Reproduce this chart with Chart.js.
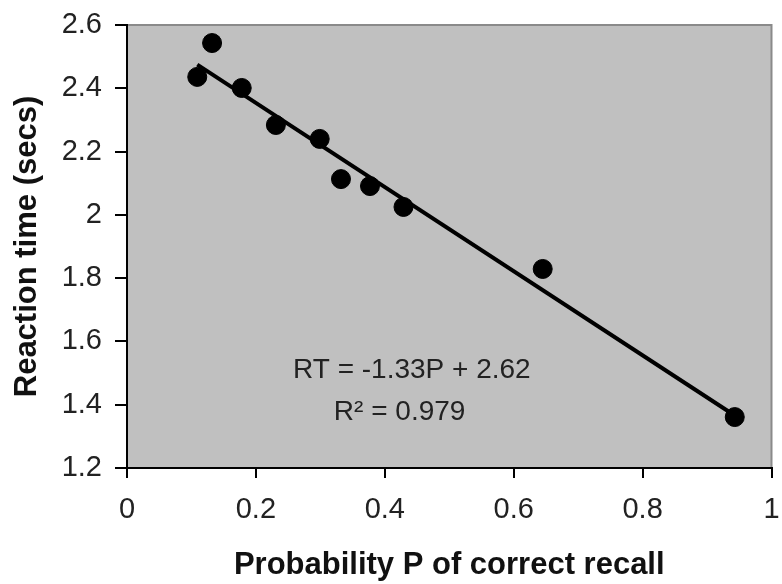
<!DOCTYPE html>
<html>
<head>
<meta charset="utf-8">
<script src="https://cdn.jsdelivr.net/npm/chart.js@4.4.1/dist/chart.umd.min.js"></script>
<style>
  html, body { margin: 0; padding: 0; background: #fff; }
  #wrap { width: 782px; height: 584px; }
</style>
</head>
<body>
<div id="wrap"><canvas id="rtChart" width="782" height="584"></canvas></div>
<script>
// Data
const recallP = [0.109, 0.132, 0.178, 0.231, 0.299, 0.332, 0.377, 0.429, 0.645, 0.943];
const reactionTime = [2.436, 2.543, 2.401, 2.284, 2.240, 2.113, 2.091, 2.025, 1.829, 1.361];
const trendP = [0.109, 0.943];
const trendRT = [2.475, 1.366];
const xTicks = [0, 0.2, 0.4, 0.6, 0.8, 1];
const yTicks = [1.2, 1.4, 1.6, 1.8, 2, 2.2, 2.4, 2.6];
const fitLabel = 'RT = -1.33P + 2.62';
const r2Label = 'R\u00B2 = 0.979';

const FONT = "'Liberation Sans', Arial, sans-serif";

// plot area fill + grey top/right frame, and the fit equation text
const plotDecor = {
    id: 'plotDecor',
    beforeDraw(chart) {
        const { ctx, chartArea: a } = chart;
        ctx.save();
        ctx.fillStyle = '#c0c0c0';
        ctx.fillRect(a.left, a.top, a.right - a.left, a.bottom - a.top);
        ctx.strokeStyle = '#8a8a8a';
        ctx.lineWidth = 2;
        ctx.beginPath();
        ctx.moveTo(a.left, a.top);
        ctx.lineTo(a.right, a.top);
        ctx.lineTo(a.right, a.bottom);
        ctx.stroke();
        ctx.restore();
    },
    afterDatasetsDraw(chart) {
        const { ctx, scales: { x, y } } = chart;
        ctx.save();
        ctx.fillStyle = '#222';
        ctx.font = '28px ' + FONT;
        ctx.textAlign = 'center';
        ctx.textBaseline = 'middle';
        ctx.fillText(fitLabel, x.getPixelForValue(0.442), y.getPixelForValue(1.51));
        ctx.fillText(r2Label, x.getPixelForValue(0.423), y.getPixelForValue(1.377));
        ctx.restore();
    }
};

const ctx = document.getElementById('rtChart').getContext('2d');
new Chart(ctx, {
    type: 'scatter',
    data: {
        datasets: [
            {
                label: 'Observed',
                data: recallP.map((p, i) => ({ x: p, y: reactionTime[i] })),
                backgroundColor: '#000',
                borderColor: '#000',
                pointRadius: 9.5,
                pointHoverRadius: 9.5
            },
            {
                type: 'line',
                label: 'Fit',
                data: trendP.map((p, i) => ({ x: p, y: trendRT[i] })),
                borderColor: '#000',
                borderWidth: 4,
                pointRadius: 0,
                fill: false
            }
        ]
    },
    options: {
        responsive: false,
        animation: false,
        layout: { padding: { top: 25, right: 10, bottom: 0, left: 0 } },
        plugins: {
            legend: { display: false },
            tooltip: { enabled: false }
        },
        scales: {
            x: {
                type: 'linear',
                min: 0,
                max: 1,
                afterBuildTicks: (s) => { s.ticks = xTicks.map(v => ({ value: v })); },
                afterFit: (s) => { s.height = 116; s.paddingLeft = 0; s.paddingRight = 0; },
                grid: { drawOnChartArea: false, drawTicks: true, tickLength: 10, color: '#000', lineWidth: 2 },
                border: { display: true, color: '#000', width: 2 },
                ticks: {
                    padding: 15,
                    color: '#222',
                    font: { family: FONT, size: 29 },
                    callback: (v) => String(v)
                },
                title: {
                    display: true,
                    text: 'Probability P of correct recall',
                    color: '#111',
                    font: { family: FONT, size: 31, weight: 'bold' },
                    padding: { top: 0, bottom: 0 }
                }
            },
            y: {
                type: 'linear',
                min: 1.2,
                max: 2.6,
                afterBuildTicks: (s) => { s.ticks = yTicks.map(v => ({ value: v })); },
                afterFit: (s) => { s.width = 127; s.paddingTop = 0; s.paddingBottom = 0; },
                grid: { drawOnChartArea: false, drawTicks: true, tickLength: 12, color: '#000', lineWidth: 2 },
                border: { display: true, color: '#000', width: 2 },
                ticks: {
                    padding: 13,
                    color: '#222',
                    font: { family: FONT, size: 29 },
                    callback: (v) => String(v)
                },
                title: {
                    display: true,
                    text: 'Reaction time (secs)',
                    color: '#111',
                    font: { family: FONT, size: 31, weight: 'bold' },
                    padding: { top: 9, bottom: 0 }
                }
            }
        }
    },
    plugins: [plotDecor]
});
</script>
</body>
</html>
